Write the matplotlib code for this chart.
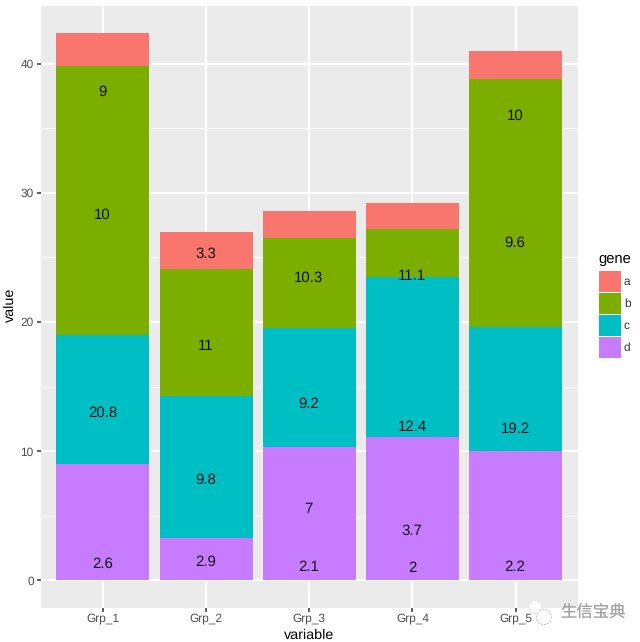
import matplotlib
matplotlib.use("Agg")
import matplotlib.pyplot as plt
from matplotlib.patches import Rectangle, Circle
import numpy as np

groups = ["Grp_1", "Grp_2", "Grp_3", "Grp_4", "Grp_5"]
genes = ["a", "b", "c", "d"]
a = [2.6, 2.9, 2.1, 2.0, 2.2]
b = [20.8, 9.8, 7.0, 3.7, 19.2]
c = [10.0, 11.0, 9.2, 12.4, 9.6]
d = [9.0, 3.3, 10.3, 11.1, 10.0]
label_text = [
    ["2.6", "2.9", "2.1", "2", "2.2"],
    ["20.8", "9.8", "7", "3.7", "19.2"],
    ["10", "11", "9.2", "12.4", "9.6"],
    ["9", "3.3", "10.3", "11.1", "10"],
]
colors = ["#F8766D", "#7CAE00", "#00BFC4", "#C77CFF"]
yticks = [0, 10, 20, 30, 40]
yminor = [5, 15, 25, 35]

W, H = 640, 642
plt.rcParams["font.family"] = ["Liberation Sans", "DejaVu Sans"]
plt.rcParams["text.hinting"] = "none"
fig = plt.figure(figsize=(W / 100, H / 100), dpi=100, facecolor="white")
L, R, T, B = 41, 577.5, 5.5, 607.5
ax = fig.add_axes([L / W, 1 - B / H, (R - L) / W, (B - T) / H])
ax.set_facecolor("#EBEBEB")
for s in ax.spines.values():
    s.set_visible(False)
ax.set_axisbelow(True)

vals = np.array([a, b, c, d], dtype=float)
x = np.arange(1, len(groups) + 1)

# stacked bars: d at the bottom, a on top
bottom = np.zeros(len(groups))
for i in [3, 2, 1, 0]:
    ax.bar(x, vals[i], 0.9, bottom=bottom, color=colors[i], linewidth=0, zorder=3)
    bottom += vals[i]

# labels positioned by cumulative sum of a,b,c,d from zero
cum = np.cumsum(vals, axis=0)
for i in range(4):
    for j in range(len(groups)):
        ax.annotate(label_text[i][j], (x[j], cum[i, j] - vals[i, j] / 2),
                    xytext=(-0.3, -0.7), textcoords="offset points", ha="center",
                    va="center", fontsize=10.8, color="#111111", zorder=4)

ax.set_xlim(0.4, 5.6)
ax.set_ylim(-2.12, 44.52)
ax.set_xticks(x)
ax.set_xticklabels(groups)
ax.set_yticks(yticks)
ax.set_yticks(yminor, minor=True)
ax.grid(True, which="major", color="white", linewidth=1.4, zorder=1)
ax.grid(True, which="minor", axis="y", color="white", linewidth=0.6, zorder=1)
ax.tick_params(axis="both", which="major", length=3, width=1.1, color="#333333",
               labelsize=8.6, labelcolor="#4D4D4D", pad=2.2)
ax.tick_params(axis="x", which="major", pad=0.8)
ax.tick_params(axis="both", which="minor", length=0)
fig.text(309 / W, 1 - 635 / H, "variable", ha="center", va="center", fontsize=10.4, color="black")
fig.text(10.5 / W, 1 - 305 / H, "value", ha="center", va="center", rotation=90, fontsize=10.4, color="black")

# legend
fig.text(598 / W, 1 - 259.5 / H, "gene", ha="left", va="center", fontsize=10.6, color="black")
key_tops = [271, 293, 315, 337]
for top, col, g in zip(key_tops, colors, genes):
    fig.add_artist(Rectangle((599 / W, 1 - (top + 21) / H), 22 / W, 21 / H,
                             transform=fig.transFigure, facecolor=col, edgecolor="none"))
    fig.text(624 / W, 1 - (top + 10.5) / H, g, ha="left", va="center", fontsize=8.6, color="#333333")

# watermark
fig.text(560 / W, 1 - 612 / H, "生信宝典", ha="left", va="center", fontsize=11.8,
         color="#A0A0A0", family=["Noto Sans CJK SC", "DejaVu Sans"])
fig.add_artist(Circle((535, H - 607), 6.5, transform=None, facecolor="white",
                      edgecolor="#E4E4E4", linewidth=0.6, zorder=5))
fig.add_artist(Circle((544, H - 617), 7.5, transform=None, facecolor="white",
                      edgecolor="#BDBDBD", linewidth=0.7, linestyle=(0, (2, 1.5)), zorder=6))

fig.savefig("out.png", dpi=100, facecolor="white")
